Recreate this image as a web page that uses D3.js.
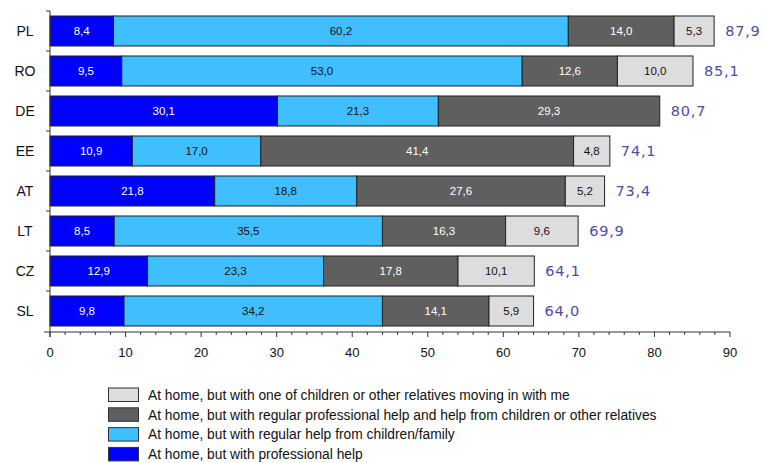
<!DOCTYPE html>
<html><head><meta charset="utf-8">
<script src="https://cdn.jsdelivr.net/npm/d3@7"></script>
<style>body{margin:0;background:#fff}svg{display:block}</style>
</head><body><svg id="c" width="763" height="463"></svg>
<script>
const categories = ["PL","RO","DE","EE","AT","LT","CZ","SL"];
const professional = [8.4, 9.5, 30.1, 10.9, 21.8, 8.5, 12.9, 9.8];
const family = [60.2, 53.0, 21.3, 17.0, 18.8, 35.5, 23.3, 34.2];
const profAndFamily = [14.0, 12.6, 29.3, 41.4, 27.6, 16.3, 17.8, 14.1];
const relativesMovingIn = [5.3, 10.0, 0, 4.8, 5.2, 9.6, 10.1, 5.9];
const totals = [87.9, 85.1, 80.7, 74.1, 73.4, 69.9, 64.1, 64.0];
const xTicks = [0,10,20,30,40,50,60,70,80,90];
const seriesNames = [
  "At home, but with professional help",
  "At home, but with regular help from children/family",
  "At home, but with regular professional help and help from children or other relatives",
  "At home, but with one of children or other relatives moving in with me"
];
const seriesColors = ["#0000FF","#3FBFFF","#5F5F5F","#DDDDDD"];
const labelColors = ["#fff","#111","#fff","#111"];
const seriesData = [professional, family, profAndFamily, relativesMovingIn];

const fmt = v => v.toFixed(1).replace(".", ",");
const svg = d3.select("#c");
const x = d3.scaleLinear().domain([0,90]).range([50,730]);
const y = d3.scaleBand().domain(categories).range([11,331]).paddingInner(0.25).paddingOuter(0.125);

const rows = categories.map((c,i)=>{const o={cat:c}; seriesData.forEach((s,k)=>o["s"+k]=s[i]); return o;});
const stack = d3.stack().keys(["s0","s1","s2","s3"])(rows);

const g = svg.append("g");
stack.forEach((layer,k)=>{
  layer.forEach((d,i)=>{
    const v = d[1]-d[0];
    if (v<=0) return;
    g.append("rect").attr("x",x(d[0])).attr("y",y(categories[i]))
      .attr("width",x(d[1])-x(d[0])).attr("height",y.bandwidth())
      .attr("fill",seriesColors[k]).attr("stroke","#222").attr("stroke-width",1);
    g.append("text").attr("x",(x(d[0])+x(d[1]))/2).attr("y",y(categories[i])+y.bandwidth()/2)
      .attr("dy","0.35em").attr("text-anchor","middle")
      .attr("font-family","Liberation Sans, Arial, sans-serif").attr("font-size",11.5)
      .attr("fill",labelColors[k]).text(fmt(v));
  });
});
// totals
categories.forEach((c,i)=>{
  svg.append("text").attr("x",x(totals[i])+11).attr("y",y(c)+y.bandwidth()/2)
    .attr("dy","0.35em").attr("font-family","DejaVu Sans, Verdana, sans-serif")
    .attr("font-size",14.5).attr("letter-spacing",0.8).attr("fill","#4B4BAB").text(fmt(totals[i]));
});

// x axis
const xa = svg.append("g").attr("transform","translate(0,332)");
xa.append("line").attr("x1",44).attr("x2",730).attr("stroke","#333");
xa.selectAll("line.minor").data(d3.range(0,91,2)).join("line")
  .attr("x1",d=>x(d)).attr("x2",d=>x(d)).attr("y1",0).attr("y2",d=>d%10===0?5:3).attr("stroke","#333");
xa.selectAll("text").data(xTicks).join("text").attr("x",d=>x(d)).attr("y",25)
  .attr("text-anchor","middle").attr("font-family","Liberation Sans, Arial, sans-serif")
  .attr("font-size",13).attr("fill","#111").text(d=>d);

// y axis
const ya = svg.append("g");
ya.append("line").attr("x1",50).attr("x2",50).attr("y1",11).attr("y2",337).attr("stroke","#333");
const step = y.step();
ya.selectAll("line.t").data(d3.range(0,categories.length)).join("line")
  .attr("x1",46).attr("x2",50).attr("y1",d=>11+d*step).attr("y2",d=>11+d*step).attr("stroke","#333");
ya.selectAll("text").data(categories).join("text").attr("x",25).attr("y",d=>y(d)+y.bandwidth()/2)
  .attr("dy","0.35em").attr("text-anchor","middle").attr("font-family","Liberation Sans, Arial, sans-serif")
  .attr("font-size",14).attr("fill","#111").text(d=>d);

// legend (reverse order)
const legOrder = [3,2,1,0];
legOrder.forEach((k,j)=>{
  const yy = 388 + j*19.8;
  svg.append("rect").attr("x",108.5).attr("y",yy).attr("width",30).attr("height",13.5)
    .attr("fill",seriesColors[k]).attr("stroke","#333");
  svg.append("text").attr("x",148).attr("y",yy+7).attr("dy","0.35em")
    .attr("font-family","Liberation Sans, Arial, sans-serif").attr("font-size",13.8)
    .attr("fill","#111").text(seriesNames[k]);
});
</script></body></html>
